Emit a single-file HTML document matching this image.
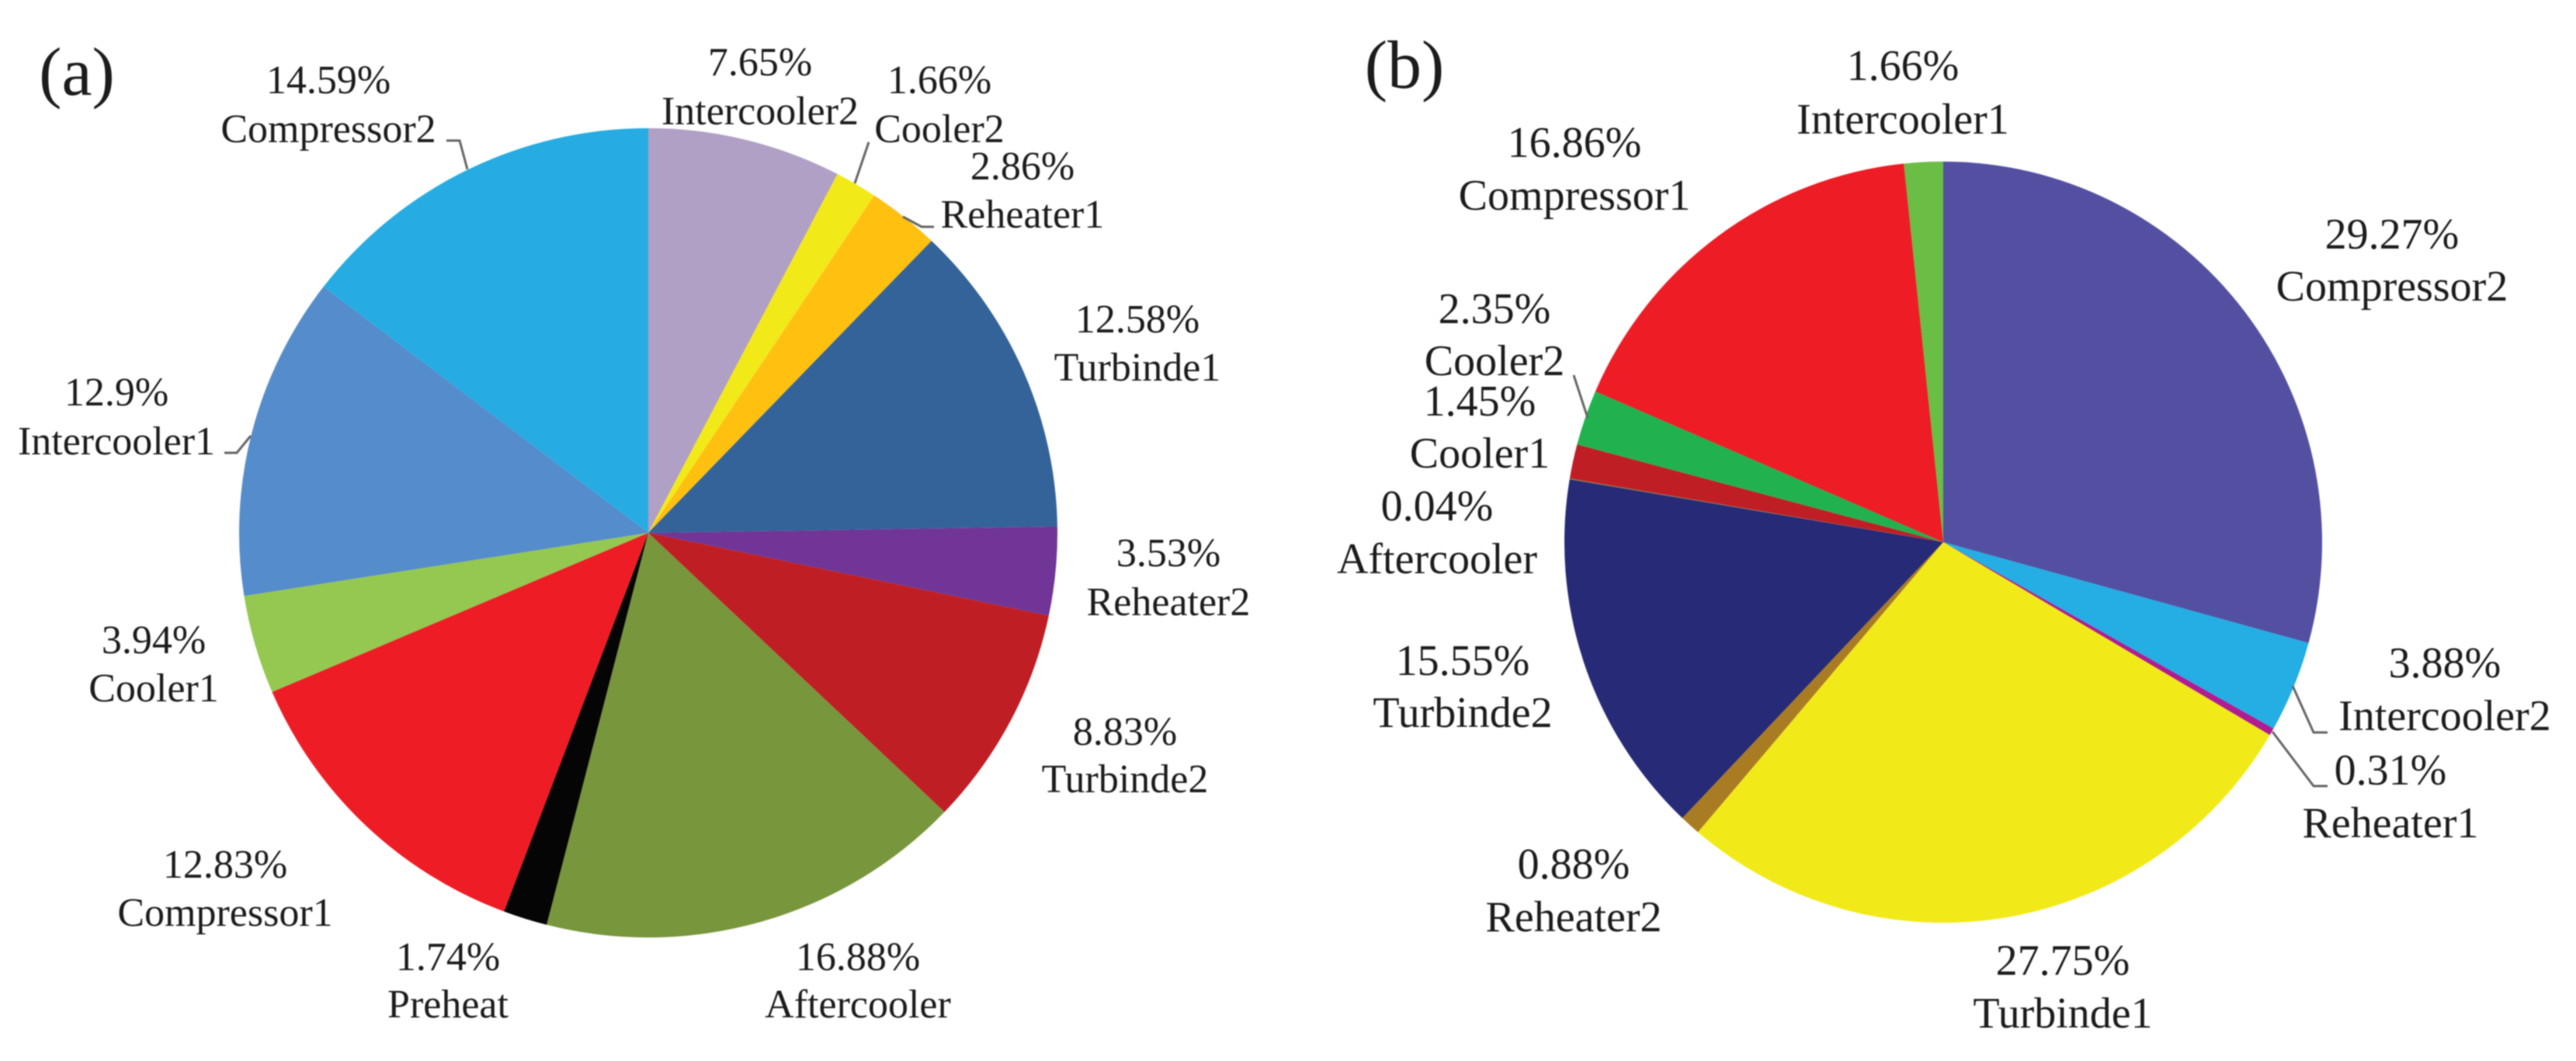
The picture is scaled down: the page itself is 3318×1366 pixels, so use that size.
<!DOCTYPE html>
<html lang="en">
<head>
<meta charset="utf-8">
<title>Pie charts (a) and (b)</title>
<style>
html,body{margin:0;padding:0;background:#fff;width:3318px;height:1366px;overflow:hidden}
svg{display:block;filter:blur(0.9px)}
svg,svg text{font-family:"Liberation Serif","Times New Roman",Times,"Noto Serif CJK SC","DejaVu Serif",serif;}
text{fill:#1c1c1c;text-anchor:middle}
</style>
</head>
<body>
<svg id="chart" xmlns="http://www.w3.org/2000/svg" width="3318" height="1366" viewBox="0 0 3318 1366">
<rect width="3318" height="1366" fill="#ffffff"/>
<g id="pieA"></g>
<g id="pieB"></g>
<g id="linesA" fill="none" stroke="#666" stroke-width="3">
<polyline points="575,181 592,181 602,218"/>
<polyline points="1119,183 1101,236"/>
<polyline points="1203,292 1187,292 1163,279"/>
<polyline points="289,583 305,583 323,561"/>
</g>
<g id="linesB" fill="none" stroke="#666" stroke-width="3">
<polyline points="2027,483 2045,538"/>
<polyline points="2953,883 2980,943 2998,943"/>
<polyline points="2927,942 2980,1012 2998,1012"/>
</g>
<text x="99" y="122" font-size="88">(a)</text>
<text x="1809" y="113" font-size="88">(b)</text>
</svg>
<script>
const categoriesA = ['Intercooler2','Cooler2','Reheater1','Turbinde1','Reheater2','Turbinde2','Aftercooler','Preheat','Compressor1','Cooler1','Intercooler1','Compressor2'];
const valuesA = [7.65,1.66,2.86,12.58,3.53,8.83,16.88,1.74,12.83,3.94,12.9,14.59];
const categoriesB = ['Compressor2','Intercooler2','Reheater1','Turbinde1','Reheater2','Turbinde2','Aftercooler','Cooler1','Cooler2','Compressor1','Intercooler1'];
const valuesB = [29.27,3.88,0.31,27.75,0.88,15.55,0.04,1.45,2.35,16.86,1.66];

const colorsA = ['#b0a0c5','#f2ea18','#ffc010','#336399','#703596','#bf1e24','#78963c','#050505','#ee1c25','#94c850','#558ccb','#26ace2'];
const colorsB = ['#5350a2','#24aee4','#b01c92','#f2ea18','#a97c23','#272a76','#8a7a40','#bf1e24','#22b14f','#ee1c25','#6abd45'];

/* label layout: [center x, value baseline y, name baseline y], keyed by category */
const layoutA = {
  Intercooler2:[979,97,160], Cooler2:[1210,120,183], Reheater1:[1317,231,293], Turbinde1:[1465,428,490],
  Reheater2:[1505,729,792], Turbinde2:[1449,959,1020], Aftercooler:[1105,1249,1310], Preheat:[577,1249,1310],
  Compressor1:[290,1130,1192], Cooler1:[198,841,903], Intercooler1:[150,522,585], Compressor2:[423,120,183]
};
const layoutB = {
  Compressor2:[3081,320,387], Intercooler2:[3149,872,940], Reheater1:[3079,1010,1078], Turbinde1:[2657,1255,1323],
  Reheater2:[2027,1131,1199], Turbinde2:[1884,869,936], Aftercooler:[1851,670,738], Cooler1:[1906,535,602],
  Cooler2:[1925,416,483], Compressor1:[2028,202,270], Intercooler1:[2451,103,172]
};

const SVG_NS = 'http://www.w3.org/2000/svg';

function slug(s){ return s.toLowerCase(); }

function drawPie(host, suffix, categories, values, colors, layout, cx, cy, rx, ry, fontSize){
  const total = values.reduce(function(a,b){ return a+b; }, 0);
  const angleOf = function(v){ return v / total * Math.PI * 2; };
  let cum = 0;
  categories.forEach(function(name, i){
    const a0 = angleOf(cum);
    cum += values[i];
    const a1 = angleOf(cum);
    const x0 = cx + rx * Math.sin(a0), y0 = cy - ry * Math.cos(a0);
    const x1 = cx + rx * Math.sin(a1), y1 = cy - ry * Math.cos(a1);
    const large = (a1 - a0) > Math.PI ? 1 : 0;
    const slice = document.createElementNS(SVG_NS, 'path');
    slice.setAttribute('d', 'M' + cx + ' ' + cy + ' L' + x0 + ' ' + y0 + ' A' + rx + ' ' + ry + ' 0 ' + large + ' 1 ' + x1 + ' ' + y1 + ' Z');
    slice.setAttribute('fill', colors[i]);
    
    
    host.appendChild(slice);
  });
  categories.forEach(function(name, i){
    const pos = layout[name];
    const valueText = document.createElementNS(SVG_NS, 'text');
    valueText.setAttribute('x', pos[0]);
    valueText.setAttribute('y', pos[1]);
    valueText.setAttribute('font-size', fontSize);
    valueText.textContent = values[i] + '%';
    
    
    host.appendChild(valueText);
    const nameText = document.createElementNS(SVG_NS, 'text');
    nameText.setAttribute('x', pos[0]);
    nameText.setAttribute('y', pos[2]);
    nameText.setAttribute('font-size', fontSize);
    nameText.textContent = name;
    
    
    host.appendChild(nameText);
  });
}

drawPie(document.getElementById('pieA'), 'a', categoriesA, valuesA, colorsA, layoutA, 835, 686, 527, 521, 52);
drawPie(document.getElementById('pieB'), 'b', categoriesB, valuesB, colorsB, layoutB, 2503, 698, 488, 490, 56);
</script>
</body>
</html>
